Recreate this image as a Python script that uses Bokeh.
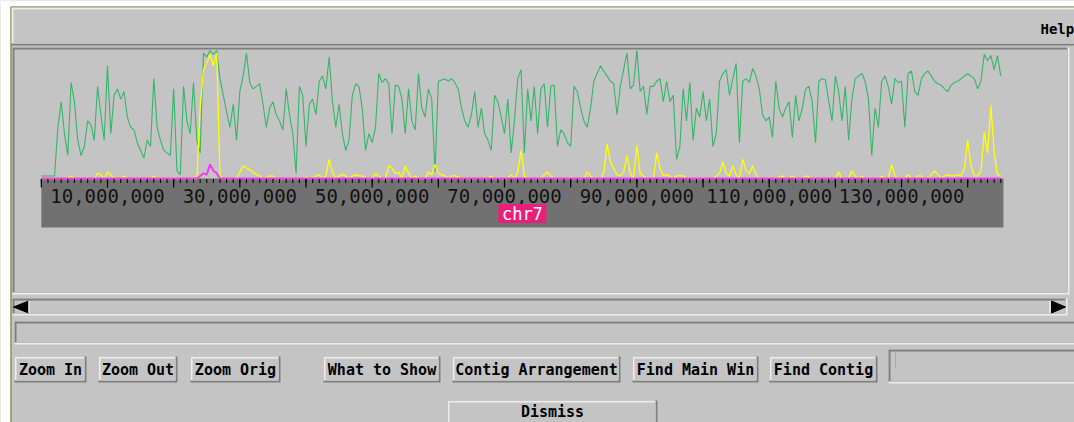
import numpy as np
from bokeh.plotting import figure
from bokeh.models import Range1d
from bokeh.core.properties import value
from bokeh.embed import file_html
from bokeh.resources import INLINE

# ---------------- data ----------------
chrom_name = "chr7"
chrom_length = 145.4e6
bin_size = 0.5e6

green = [
    2, 2, 2, 2, 2, 40, 60, 35, 18, 75,
    60, 30, 18, 25, 45, 42, 30, 72, 50, 30,
    88, 35, 65, 70, 62, 68, 48, 40, 38, 28,
    22, 16, 30, 25, 78, 40, 30, 22, 20, 18,
    70, 6, 3, 72, 45, 35, 75, 30, 20, 98,
    95, 100, 97, 100, 78, 65, 52, 40, 58, 30,
    68, 80, 98, 75, 70, 72, 74, 58, 40, 55,
    60, 50, 45, 38, 70, 50, 35, 4, 72, 65,
    25, 58, 62, 50, 76, 80, 70, 95, 60, 40,
    58, 35, 22, 30, 65, 74, 72, 55, 22, 35,
    28, 40, 82, 75, 78, 74, 35, 73, 72, 62,
    35, 70, 45, 38, 82, 55, 48, 70, 62, 5,
    76, 77, 78, 76, 78, 75, 70, 55, 45, 40,
    50, 68, 40, 55, 35, 30, 22, 65, 60, 48,
    35, 62, 20, 45, 78, 85, 20, 70, 45, 72,
    35, 70, 74, 40, 72, 73, 25, 38, 35, 28,
    25, 72, 68, 55, 45, 40, 55, 76, 82, 88,
    84, 80, 76, 74, 50, 72, 85, 98, 70, 73,
    100, 68, 72, 50, 72, 72, 76, 78, 60, 76,
    60, 65, 15, 25, 70, 45, 75, 30, 55, 48,
    68, 45, 62, 25, 35, 76, 82, 85, 65, 78,
    90, 28, 76, 78, 75, 86, 80, 70, 50, 45,
    48, 32, 76, 55, 48, 55, 60, 32, 65, 45,
    55, 70, 72, 60, 28, 76, 78, 77, 60, 45,
    80, 68, 45, 72, 30, 62, 78, 80, 82, 76,
    62, 18, 55, 40, 76, 80, 72, 58, 78, 75,
    76, 40, 82, 84, 68, 65, 78, 82, 84, 80,
    76, 74, 73, 70, 68, 73, 75, 76, 78, 80,
    82, 80, 78, 70, 76, 97, 92, 96, 85, 96,
    80,
]

yellow = [
    0, 0, 0, 0, 0, 0, 0, 0, 0, 2,
    0, 0, 0, 0, 0, 0, 0, 4, 3, 0,
    5, 3, 0, 0, 0, 2, 0, 0, 0, 0,
    0, 0, 0, 0, 2, 0, 0, 0, 0, 0,
    0, 0, 0, 0, 0, 0, 0, 0, 55, 85,
    90, 97, 88, 98, 2, 0, 0, 0, 0, 0,
    5, 10, 8, 7, 5, 3, 2, 0, 0, 2,
    2, 0, 0, 0, 0, 0, 0, 0, 0, 0,
    1, 0, 0, 2, 3, 0, 2, 15, 5, 0,
    2, 3, 2, 0, 2, 3, 2, 2, 0, 0,
    0, 4, 2, 0, 0, 10, 8, 4, 5, 0,
    10, 4, 0, 2, 0, 0, 0, 5, 3, 11,
    4, 3, 2, 0, 2, 2, 1, 0, 0, 0,
    0, 0, 0, 0, 0, 0, 2, 0, 0, 0,
    0, 0, 3, 0, 5, 22, 2, 0, 0, 0,
    0, 0, 3, 5, 2, 0, 0, 0, 0, 0,
    0, 0, 0, 0, 0, 5, 2, 0, 0, 0,
    5, 27, 13, 8, 3, 2, 5, 18, 4, 0,
    26, 4, 2, 0, 0, 0, 20, 8, 2, 3,
    2, 0, 2, 2, 2, 0, 0, 0, 0, 0,
    0, 0, 0, 0, 2, 4, 13, 4, 2, 10,
    3, 0, 15, 6, 4, 10, 3, 0, 0, 0,
    0, 0, 0, 1, 2, 0, 0, 2, 0, 0,
    0, 2, 1, 0, 0, 0, 0, 0, 0, 0,
    0, 5, 0, 0, 0, 6, 2, 0, 2, 0,
    0, 0, 0, 0, 2, 0, 0, 11, 2, 0,
    0, 0, 3, 0, 0, 2, 2, 0, 0, 3,
    6, 3, 0, 2, 3, 2, 2, 3, 2, 8,
    30, 10, 2, 2, 6, 36, 20, 57, 20, 3,
    2,
]

magenta = [
    0, 0, 0, 0, 0, 0, 0, 0, 0, 0,
    0, 0, 0, 0, 0, 0, 0, 0, 0, 0,
    0, 0, 0, 0, 0, 0, 0, 0, 0, 0,
    0, 0, 0, 0, 0, 0, 0, 0, 0, 0,
    0, 0, 0, 0, 0, 0, 0, 0, 2, 4,
    3, 11, 6, 4, 0, 0, 0, 0, 0, 0,
    0, 0, 0, 0, 0, 0, 0, 0, 0, 0,
    0, 0, 0, 0, 0, 0, 0, 0, 0, 0,
    0, 0, 0, 0, 0, 0, 0, 0, 0, 0,
    0, 0, 0, 0, 0, 0, 0, 0, 0, 0,
    0, 0, 0, 0, 0, 0, 0, 0, 0, 0,
    0, 0, 0, 0, 0, 0, 0, 0, 0, 0,
    0, 0, 0, 0, 0, 0, 0, 0, 0, 0,
    0, 0, 0, 0, 0, 0, 0, 0, 0, 0,
    0, 0, 0, 0, 0, 0, 0, 0, 0, 0,
    0, 0, 0, 0, 0, 0, 0, 0, 0, 0,
    0, 0, 0, 0, 0, 0, 0, 0, 0, 0,
    0, 0, 0, 0, 0, 0, 0, 0, 0, 0,
    0, 0, 0, 0, 0, 0, 0, 0, 0, 0,
    0, 0, 0, 0, 0, 0, 0, 0, 0, 0,
    0, 0, 0, 0, 0, 0, 0, 0, 0, 0,
    0, 0, 0, 0, 0, 0, 0, 0, 0, 0,
    0, 0, 0, 0, 0, 0, 0, 0, 0, 0,
    0, 0, 0, 0, 0, 0, 0, 0, 0, 0,
    0, 0, 0, 0, 0, 0, 0, 0, 0, 0,
    0, 0, 0, 0, 0, 0, 0, 0, 0, 0,
    0, 0, 0, 0, 0, 0, 0, 0, 0, 0,
    0, 0, 0, 0, 0, 0, 0, 0, 0, 0,
    0, 0, 0, 0, 0, 0, 0, 0, 0, 0,
    0,
]

tick_label_pos = [10e6, 30e6, 50e6, 70e6, 90e6, 110e6, 130e6]
tick_labels = ["10,000,000", "30,000,000", "50,000,000", "70,000,000",
               "90,000,000", "110,000,000", "130,000,000"]
major_step = 10e6
minor_step = 1e6

button_labels = ["Zoom In", "Zoom Out", "Zoom Orig", "What to Show",
                 "Contig Arrangement", "Find Main Win", "Find Contig"]
dismiss_label = "Dismiss"
menu_label = "Help"

# ---------------- layout / style ----------------
W, H = 1074, 422
BG = "#c4c4c4"
LIGHT = "#ededed"
DARK = "#7e7e7e"
BAND = "#717171"
GREEN = "#36b56a"
YELLOW = "#ffff00"
MAGENTA = "#f23cf0"
PINK = "#ea1f7c"
MONO = value("DejaVu Sans Mono")

px_per_bp = 6.617e-6
x0_page = 40.83          # page x of position 0
base_page = 178.0        # page y of value 0
px_per_unit = 1.28       # page px per value unit

x_start = (0 - x0_page) / px_per_bp
x_end = (W - x0_page) / px_per_bp
y_top = base_page / px_per_unit
y_bot = (base_page - H) / px_per_unit

p = figure(width=W, height=H, x_range=Range1d(x_start, x_end),
           y_range=Range1d(y_bot, y_top), x_axis_type=None, y_axis_type=None,
           toolbar_location=None, output_backend="svg", min_border=0,
           background_fill_color=BG, border_fill_color=BG,
           outline_line_color=None)
p.grid.visible = False
p.extra_x_ranges = {"px": Range1d(0, W)}
p.extra_y_ranges = {"px": Range1d(H, 0)}
PX = dict(x_range_name="px", y_range_name="px")


def bevel(l, r, t, b, raised=True, w=2):
    first, second = (DARK, LIGHT) if raised else (LIGHT, DARK)
    p.quad(left=l, right=r, top=t, bottom=b, fill_color=first, line_color=None, **PX)
    p.quad(left=l, right=r - w, top=t, bottom=b - w, fill_color=second, line_color=None, **PX)
    p.quad(left=l + w, right=r - w, top=t + w, bottom=b - w, fill_color=BG, line_color=None, **PX)


# window edge (white outside, olive frame line)
p.quad(left=0, right=10, top=0, bottom=H, fill_color="white", line_color=None, **PX)
p.quad(left=0, right=W, top=0, bottom=6, fill_color="white", line_color=None, **PX)
p.segment(x0=10.5, y0=6.5, x1=10.5, y1=H, line_color="#6f9040", line_width=1.2, **PX)
p.segment(x0=10.5, y0=6.5, x1=W, y1=6.5, line_color="#6f9040", line_width=1.2, **PX)

# menu bar
bevel(11, 1080, 7, 45, raised=True)
p.text(x=[1040], y=[28], text=[menu_label], text_font=MONO, text_font_size="14px",
       text_font_style="bold", text_align="left", text_baseline="middle",
       text_color="black", **PX)

# chart panel
bevel(12, 1069, 47, 294, raised=False)

# chromosome axis band
p.quad(left=[0], right=[chrom_length], top=178, bottom=227, fill_color=BAND,
       line_color=None, y_range_name="px")

# traces
xs = np.arange(len(green)) * bin_size
p.line(xs, green, line_color=GREEN, line_width=1.1)
p.line(xs, yellow, line_color=YELLOW, line_width=1.3)
p.line(xs, magenta, line_color=MAGENTA, line_width=2)

# ticks
minor = np.arange(0, chrom_length + 1, minor_step)
major = np.arange(0, chrom_length + 1, major_step)
p.segment(x0=minor, y0=178.5, x1=minor, y1=182.5, line_color="black",
          line_width=1, y_range_name="px")
p.segment(x0=major, y0=178.5, x1=major, y1=187, line_color="black",
          line_width=1.2, y_range_name="px")
p.text(x=tick_label_pos, y=195.5, text=tick_labels, text_font=MONO,
       text_font_size="19px", text_align="center", text_baseline="middle",
       text_color="#111111", y_range_name="px")

# chromosome name
p.rect(x=[chrom_length / 2], y=[213], width=48, height=19, width_units="screen",
       fill_color=PINK, line_color=None, y_range_name="px")
p.text(x=[chrom_length / 2], y=[213], text=[chrom_name], text_font=MONO,
       text_font_size="17px", text_align="center", text_baseline="middle",
       text_color="white", y_range_name="px")

# scrollbar
bevel(12, 1067, 298, 315, raised=False)
p.patch(x=[13, 28, 28], y=[306.5, 300.5, 312.5], fill_color="black",
        line_color="black", **PX)
p.segment(x0=28.5, y0=300.5, x1=28.5, y1=312.5, line_color=LIGHT, line_width=1.5, **PX)
p.patch(x=[1065, 1051, 1051], y=[306.5, 300.5, 312.5], fill_color="black",
        line_color="black", **PX)
p.segment(x0=1049.5, y0=300.5, x1=1049.5, y1=312.5, line_color=LIGHT, line_width=1.5, **PX)

# text field
bevel(14, 1080, 321, 344, raised=False)

# buttons
btn_left = [14, 98, 190, 323, 452, 632, 769]
btn_right = [86, 177, 280, 440, 620, 758, 877]
for lab, l, r in zip(button_labels, btn_left, btn_right):
    bevel(l, r, 356, 382, raised=True)
    p.text(x=[(l + r) / 2], y=[369], text=[lab], text_font=MONO,
           text_font_size="15px", text_font_style="bold", text_align="center",
           text_baseline="middle", text_color="black", **PX)

# entry field
bevel(888, 1080, 349, 383, raised=False)
p.segment(x0=895, y0=352, x1=895, y1=367, line_color="#8a8a8a", line_width=1,
          line_dash="1 1", **PX)

# dismiss
bevel(447, 657, 400, 430, raised=True)
p.text(x=[552], y=[411], text=[dismiss_label], text_font=MONO,
       text_font_size="15px", text_font_style="bold", text_align="center",
       text_baseline="middle", text_color="black", **PX)

open("out.html", "w").write(file_html(p, INLINE))
